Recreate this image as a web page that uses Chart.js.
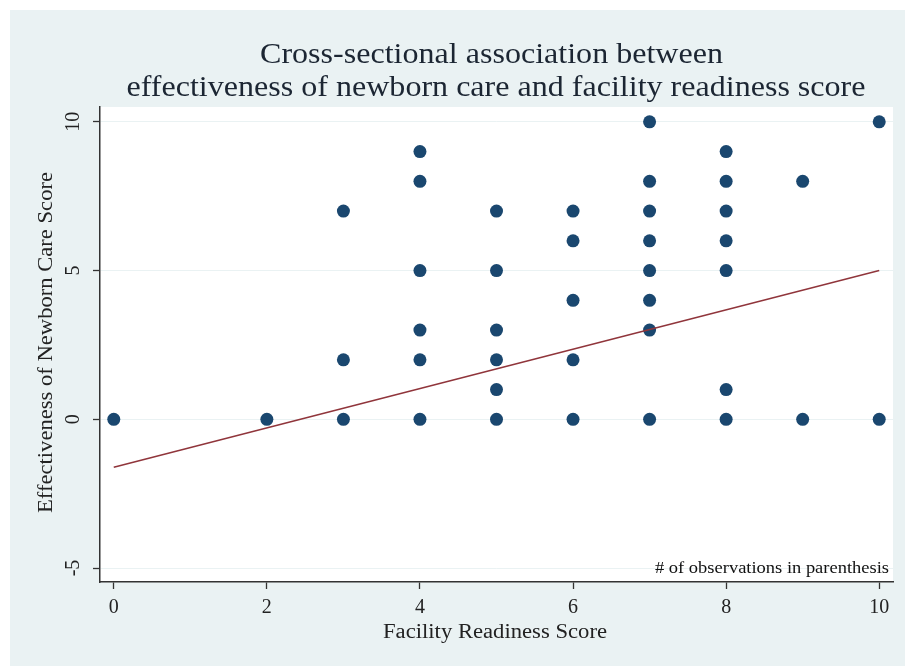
<!DOCTYPE html>
<html><head><meta charset="utf-8">
<script src="https://cdn.jsdelivr.net/npm/chart.js@4"></script>
<style>html,body{margin:0;padding:0;background:#fff}</style>
</head><body>
<canvas id="c" width="906" height="667" style="display:block;width:906px;height:667px"></canvas>
<script>
const titleLines = ["Cross-sectional association between", "effectiveness of newborn care and facility readiness score"];
const xTitle = "Facility Readiness Score";
const yTitle = "Effectiveness of Newborn Care Score";
const noteText = "# of observations in parenthesis";
const xTicks = [0, 2, 4, 6, 8, 10];
const yTicks = [-5, 0, 5, 10];
const readiness = [0, 2, 3,3,3, 4,4,4,4,4,4, 5,5,5,5,5,5, 6,6,6,6,6, 7,7,7,7,7,7,7,7, 8,8,8,8,8,8,8, 9,9, 10,10];
const effectiveness = [0, 0, 7,2,0, 9,8,5,3,2,0, 7,5,3,2,1,0, 7,6,4,2,0, 10,8,7,6,5,4,3,0, 9,8,7,6,5,1,0, 8,0, 10,0];
const fitX = [0, 10];
const fitY = [-1.61, 5.0];

const SERIF = '"Liberation Serif", "DejaVu Serif", serif';
const BG = '#eaf2f3';

// draw text stretched horizontally to a given width
function fitText(ctx, text, x, y, width, align) {
  const w = ctx.measureText(text).width;
  const k = width / w;
  ctx.save();
  ctx.translate(x, y);
  ctx.scale(k, 1);
  ctx.textAlign = align;
  ctx.fillText(text, 0, 0);
  ctx.restore();
}

const bgPlugin = {
  id: 'bg',
  beforeDraw(chart) {
    const ctx = chart.ctx, a = chart.chartArea;
    ctx.save();
    ctx.fillStyle = '#ffffff';
    ctx.fillRect(0, 0, chart.width, chart.height);
    ctx.fillStyle = BG;
    ctx.fillRect(10, 10, 895, 656);
    ctx.fillStyle = '#ffffff';
    ctx.fillRect(a.left, a.top, a.right - a.left, a.bottom - a.top);
    ctx.restore();
  }
};

const textPlugin = {
  id: 'texts',
  afterDraw(chart) {
    const ctx = chart.ctx, a = chart.chartArea;
    const xs = chart.scales.x, ys = chart.scales.y;
    const cx = (a.left + a.right) / 2;
    ctx.save();
    // title
    ctx.fillStyle = '#1c2633';
    ctx.font = '30px ' + SERIF;
    ctx.textBaseline = 'alphabetic';
    fitText(ctx, titleLines[0], 491.5, 63, 463, 'center');
    fitText(ctx, titleLines[1], 496, 96, 739, 'center');
    // x tick labels
    ctx.fillStyle = '#222';
    ctx.font = '20px ' + SERIF;
    ctx.textAlign = 'center';
    ctx.textBaseline = 'middle';
    xTicks.forEach(v => ctx.fillText(String(v), xs.getPixelForValue(v), 608));
    // y tick labels rotated
    yTicks.forEach(v => {
      ctx.save();
      ctx.translate(74, ys.getPixelForValue(v));
      ctx.rotate(-Math.PI / 2);
      ctx.fillText(String(v), 0, 0);
      ctx.restore();
    });
    // axis titles
    ctx.font = '20px ' + SERIF;
    fitText(ctx, xTitle, 495, 633, 224, 'center');
    ctx.save();
    ctx.translate(47, 342.5);
    ctx.rotate(-Math.PI / 2);
    fitText(ctx, yTitle, 0, 0, 341, 'center');
    ctx.restore();
    // note
    ctx.font = '17px ' + SERIF;
    ctx.textBaseline = 'alphabetic';
    ctx.fillStyle = '#111';
    fitText(ctx, noteText, 889, 573, 234, 'right');
    ctx.restore();
  }
};

new Chart(document.getElementById('c'), {
  data: {
    datasets: [
      {
        type: 'line',
        data: fitX.map((x, i) => ({x: x, y: fitY[i]})),
        borderColor: '#90353b',
        borderWidth: 1.5,
        pointRadius: 0,
        fill: false,
        tension: 0,
        order: 0
      },
      {
        type: 'scatter',
        data: readiness.map((x, i) => ({x: x, y: effectiveness[i]})),
        backgroundColor: '#1a476f',
        borderColor: '#1a476f',
        borderWidth: 0,
        pointRadius: 6.5,
        order: 1
      }
    ]
  },
  options: {
    responsive: false,
    animation: false,
    layout: { padding: { left: 10, right: 13, top: 107, bottom: 0 } },
    plugins: { legend: { display: false }, tooltip: { enabled: false }, title: { display: false } },
    scales: {
      x: {
        type: 'linear',
        min: -0.18, max: 10.18,
        afterBuildTicks: s => { s.ticks = xTicks.map(v => ({value: v})); },
        afterFit: s => { s.height = 85; },
        ticks: { display: false },
        grid: { drawOnChartArea: false, drawTicks: true, tickLength: 7, tickColor: '#333', tickWidth: 1.3 },
        border: { display: true, color: '#333', width: 1.5 }
      },
      y: {
        type: 'linear',
        min: -5.47, max: 10.5,
        afterBuildTicks: s => { s.ticks = yTicks.map(v => ({value: v})); },
        afterFit: s => { s.width = 90; },
        ticks: { display: false },
        grid: { color: BG, lineWidth: 1, drawTicks: true, tickLength: 7, tickColor: '#333', tickWidth: 1.3 },
        border: { display: true, color: '#333', width: 1.5 }
      }
    }
  },
  plugins: [bgPlugin, textPlugin]
});
</script>
</body></html>
